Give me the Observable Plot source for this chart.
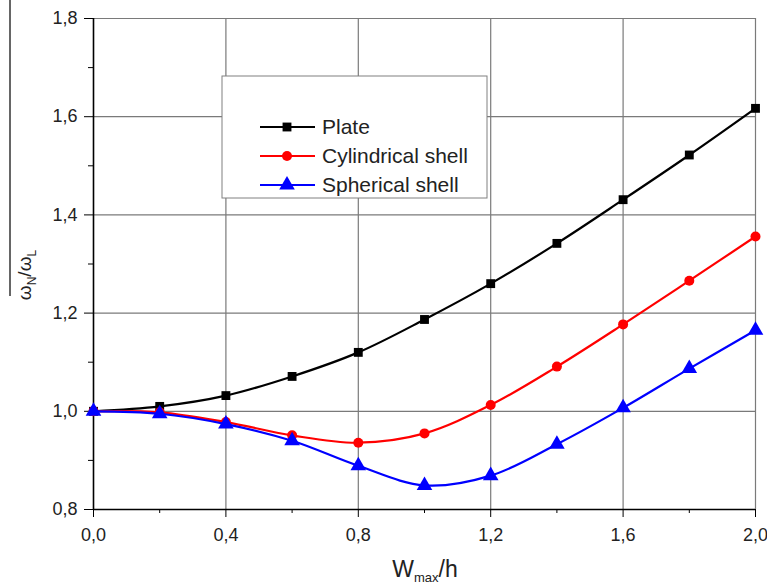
<!DOCTYPE html>
<html>
<head>
<meta charset="utf-8">
<script src="https://cdn.jsdelivr.net/npm/d3@7"></script>
<script src="https://cdn.jsdelivr.net/npm/@observablehq/plot@0.6"></script>
<style>
  html, body { margin: 0; padding: 0; background: #fff; }
  #chart { width: 767px; height: 585px; overflow: hidden; }
</style>
</head>
<body>
<div id="chart"></div>
<script>
// ---- data ----
const xValues = [0, 0.2, 0.4, 0.6, 0.8, 1.0, 1.2, 1.4, 1.6, 1.8, 2.0];
const plate = [1.0, 1.010, 1.032, 1.071, 1.120, 1.187, 1.260, 1.342, 1.431, 1.522, 1.617];
const cylindrical = [1.0, 0.998, 0.978, 0.951, 0.936, 0.955, 1.013, 1.091, 1.177, 1.266, 1.356];
const spherical = [1.0, 0.995, 0.974, 0.940, 0.889, 0.849, 0.869, 0.933, 1.007, 1.087, 1.165];
const seriesNames = ["Plate", "Cylindrical shell", "Spherical shell"];
const seriesColors = ["#000000", "#ff0000", "#0000ff"];
const seriesSymbols = ["square", "circle", "triangle"];
const xMajor = [0, 0.4, 0.8, 1.2, 1.6, 2.0];
const xMinor = [0.2, 0.6, 1.0, 1.4, 1.8];
const yMajor = [0.8, 1.0, 1.2, 1.4, 1.6, 1.8];
const yMinor = [0.9, 1.1, 1.3, 1.5, 1.7];

const allSeries = [plate, cylindrical, spherical];
const rows = [];
allSeries.forEach((vals, si) => vals.forEach((v, i) => rows.push({x: xValues[i], y: v, s: seriesNames[si]})));

const fmt = d => d.toFixed(1).replace(".", ",");

const marks = [
  Plot.gridX(xMajor.filter(d => d > 0), {stroke: "#7a7a7a", strokeOpacity: 1, strokeWidth: 1.2}),
  Plot.gridY(yMajor.filter(d => d > 0.8), {stroke: "#7a7a7a", strokeOpacity: 1, strokeWidth: 1.2}),
  Plot.axisX(xMajor, {tickFormat: fmt, tickSize: 8, tickPadding: 11, label: null, fontSize: 18, fill: "#222", stroke: "#000"}),
  Plot.axisX(xMinor, {tickFormat: () => "", tickSize: 4, label: null, stroke: "#000"}),
  Plot.axisY(yMajor, {tickFormat: fmt, tickSize: 9, tickPadding: 7, label: null, fontSize: 18, fill: "#222", stroke: "#000"}),
  Plot.axisY(yMinor, {tickFormat: () => "", tickSize: 5, label: null, stroke: "#000"}),
  Plot.ruleY([0.8], {stroke: "#000", strokeWidth: 1.6}),
  Plot.ruleX([0], {stroke: "#000", strokeWidth: 1.6})
];
seriesNames.forEach((name, si) => {
  const data = rows.filter(r => r.s === name);
  marks.push(Plot.line(data, {x: "x", y: "y", stroke: seriesColors[si], strokeWidth: 2.2, curve: "catmull-rom"}));
  marks.push(Plot.dot(data, {x: "x", y: "y", fill: seriesColors[si], stroke: "none", symbol: () => seriesSymbols[si], r: si === 2 ? 5.8 : 5}));
});

const svg = Plot.plot({
  width: 767,
  height: 585,
  marginLeft: 93,
  marginRight: 12,
  marginTop: 18,
  marginBottom: 76,
  x: {domain: [0, 2]},
  y: {domain: [0.8, 1.8]},
  style: {fontFamily: "'Liberation Sans', Arial, sans-serif", fontSize: "18px", color: "#222", background: "#fff"},
  marks
});

const g = d3.select(svg);
const ff = "'Liberation Sans', Arial, sans-serif";

// x-axis title
const xt = g.append("text").attr("x", 425).attr("y", 577).attr("text-anchor", "middle")
  .attr("font-family", ff).attr("font-size", 23).attr("fill", "#222");
xt.append("tspan").text("W");
xt.append("tspan").attr("font-size", 13).attr("dy", 5).text("max");
xt.append("tspan").attr("dy", -5).text("/h");

// y-axis title (rotated)
const yt = g.append("text").attr("transform", "translate(31,275) rotate(-90)").attr("text-anchor", "middle")
  .attr("font-family", ff).attr("font-size", 19).attr("fill", "#222");
yt.append("tspan").text("ω");
yt.append("tspan").attr("font-size", 12).attr("dy", 5).text("N");
yt.append("tspan").attr("dy", -5).text("/ω");
yt.append("tspan").attr("font-size", 12).attr("dy", 5).text("L");
g.append("line").attr("x1", 10).attr("x2", 10).attr("y1", 0).attr("y2", 296).attr("stroke", "#333").attr("stroke-width", 1.5);

// legend
const lg = g.append("g");
lg.append("rect").attr("x", 222).attr("y", 76).attr("width", 265).attr("height", 122)
  .attr("fill", "#fff").attr("stroke", "#808080").attr("stroke-width", 1);
seriesNames.forEach((name, i) => {
  const cy = 127 + i * 29;
  lg.append("line").attr("x1", 260).attr("x2", 315).attr("y1", cy).attr("y2", cy)
    .attr("stroke", seriesColors[i]).attr("stroke-width", 2.2);
  const sym = [d3.symbolSquare, d3.symbolCircle, d3.symbolTriangle][i];
  const size = i === 2 ? Math.PI * 5.8 * 5.8 : Math.PI * 25;
  lg.append("path").attr("d", d3.symbol(sym, size)()).attr("transform", `translate(287,${cy})`)
    .attr("fill", seriesColors[i]);
  lg.append("text").attr("x", 322).attr("y", cy).attr("dy", "0.35em").attr("text-anchor", "start")
    .attr("font-family", ff).attr("font-size", 21).attr("fill", "#222").text(name);
});

document.getElementById("chart").appendChild(svg);
</script>
</body>
</html>
